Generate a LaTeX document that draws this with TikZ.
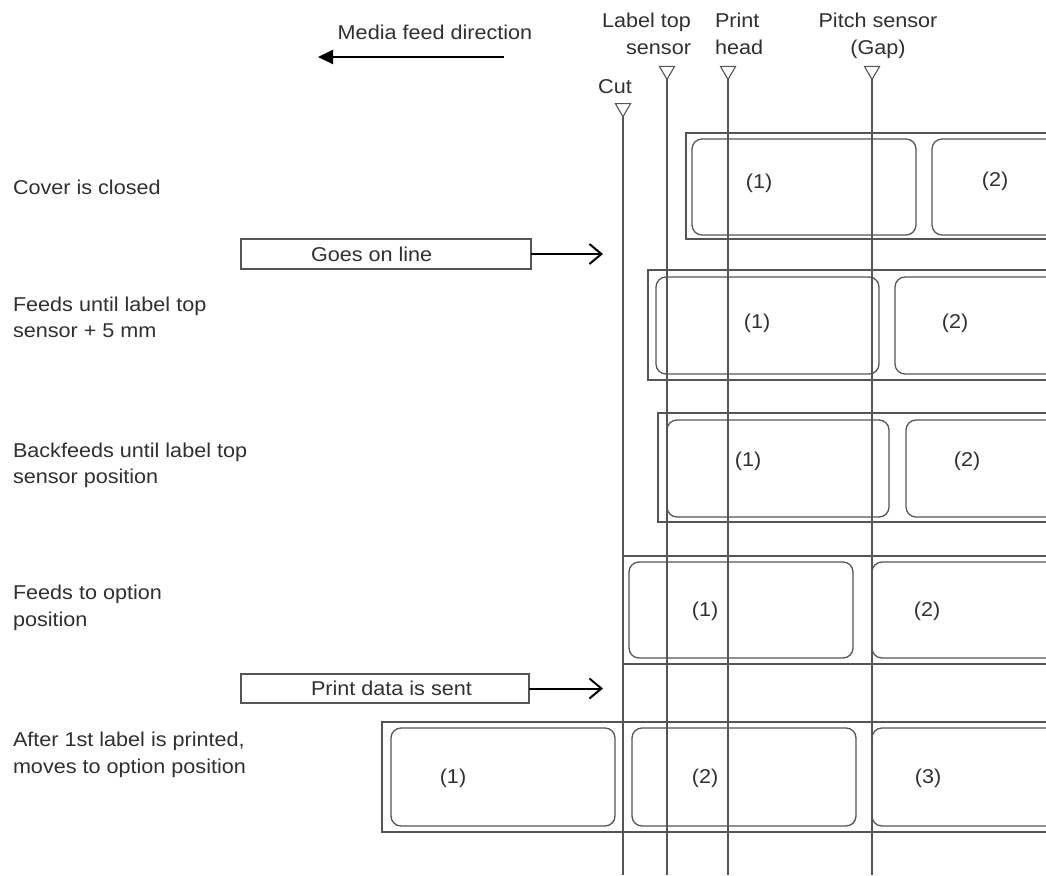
\documentclass[tikz,border=0pt]{standalone}
\usepackage{fontspec}
\setmainfont{Liberation Sans}[FakeStretch=1.08]
\usetikzlibrary{shapes.geometric,arrows.meta}
\definecolor{ln}{HTML}{555555}
\definecolor{txt}{HTML}{303030}
\begin{document}
\begin{tikzpicture}[x=1pt,y=-1pt,
  every node/.style={font=\fontsize{20}{27}\selectfont, text=txt, inner sep=0pt, outer sep=0pt},
  sensorline/.style={draw=ln, line width=1.4pt},
  sensortri/.style={regular polygon, regular polygon sides=3, shape border rotate=180,
     draw=ln, line width=1.1pt, minimum size=17.5pt, inner sep=0pt},
  media/.style={draw=ln, line width=1.3pt},
  labelbox/.style={draw=ln, line width=1.3pt, rounded corners=10pt},
  msgbox/.style={draw=ln, line width=1.2pt, rectangle},
  msgarrow/.style={draw=black, line width=2pt, -{Straight Barb[length=12pt,width=20pt,line width=2pt]}},
  feedarrow/.style={draw=black, line width=2pt, -{Triangle[length=15pt,width=14pt]}},
  lefttext/.style={anchor=north west, align=left, font=\fontsize{20}{26.5}\selectfont},
  headtext/.style={font=\fontsize{20}{27}\selectfont},
  num/.style={anchor=center}
]
\useasboundingbox (0,0) rectangle (1046,875);
\fill[white] (0,0) rectangle (1046,875);

% media feed direction
\node[headtext, anchor=north] (mfd) at (435,25) {Media feed direction};
\coordinate (mfdS) at (504,57);
\coordinate (mfdE) at (318,57);
\draw[feedarrow] (mfdS) -- (mfdE);

% sensor headings
\node[headtext, anchor=north east, align=right] (hlt) at (691,13) {Label top\\sensor};
\node[headtext, anchor=north west, align=left] (hph) at (715,13) {Print\\head};
\node[headtext, anchor=north, align=center] (hps) at (878,13) {Pitch sensor\\(Gap)};
\node[headtext, anchor=north] (hcut) at (615,80) {Cut};

% left step texts
\node[lefttext] (t1) at (13,180) {Cover is closed};
\node[lefttext] (t2) at (13,297) {Feeds until label top\\sensor + 5 mm};
\node[lefttext] (t3) at (13,443) {Backfeeds until label top\\sensor position};
\node[lefttext] (t4) at (13,585) {Feeds to option\\position};
\node[lefttext] (t5) at (13,732) {After 1st label is printed,\\moves to option position};

% message boxes
\node[msgbox, minimum width=290pt, minimum height=30pt] (goes) at (386,254) {};
\node[anchor=west] (goest) at (311,254) {Goes on line};
\coordinate (goesE) at (603,254);
\draw[msgarrow] (goes.east) -- (goesE);

\node[msgbox, minimum width=288pt, minimum height=29pt] (pds) at (385,688.5) {};
\node[anchor=west] (pdst) at (311,688.5) {Print data is sent};
\coordinate (pdsE) at (603,688.5);
\draw[msgarrow] (pds.east) -- (pdsE);

% media rows
\begin{scope}
\clip (0,0) rectangle (1046,875);
% row 1
\draw[media] (686,133) rectangle (1070,239);
\draw[labelbox] (692,139) rectangle (916,235);
\draw[labelbox] (932,139) rectangle (1170,235);
% row 2
\draw[media] (648,270) rectangle (1070,380);
\draw[labelbox] (656,277) rectangle (879,374);
\draw[labelbox] (895,277) rectangle (1170,374);
% row 3
\draw[media] (658,413) rectangle (1070,522);
\draw[labelbox] (667,420) rectangle (889,517);
\draw[labelbox] (906,420) rectangle (1170,517);
% row 4
\draw[media] (623,556) rectangle (1070,664);
\draw[labelbox] (629,562) rectangle (853,658);
\draw[labelbox] (872,562) rectangle (1170,658);
% row 6
\draw[media] (382,722) rectangle (1070,832);
\draw[labelbox] (391,728) rectangle (615,826);
\draw[labelbox] (632,728) rectangle (856,826);
\draw[labelbox] (872,728) rectangle (1170,826);
\end{scope}

% label numbers
\node[num] (r1a) at (759,183) {(1)};
\node[num] (r1b) at (995,181) {(2)};
\node[num] (r2a) at (757,323) {(1)};
\node[num] (r2b) at (955,323) {(2)};
\node[num] (r3a) at (748,461) {(1)};
\node[num] (r3b) at (967,461) {(2)};
\node[num] (r4a) at (705,611) {(1)};
\node[num] (r4b) at (927,611) {(2)};
\node[num] (r6a) at (453,778) {(1)};
\node[num] (r6b) at (705,778) {(2)};
\node[num] (r6c) at (928,778) {(3)};

% sensor markers and lines
\node[sensortri] (cut) at (623,108) {};
\node[sensortri] (lts) at (667,70.7) {};
\node[sensortri] (phd) at (728,70.7) {};
\node[sensortri] (psg) at (872,70.7) {};
\coordinate (cutB) at (623,875);
\coordinate (ltsB) at (667,875);
\coordinate (phdB) at (728,875);
\coordinate (psgB) at (872,875);
\draw[sensorline] (cut.south) -- (cutB);
\draw[sensorline] (lts.south) -- (ltsB);
\draw[sensorline] (phd.south) -- (phdB);
\draw[sensorline] (psg.south) -- (psgB);
\end{tikzpicture}
\end{document}
